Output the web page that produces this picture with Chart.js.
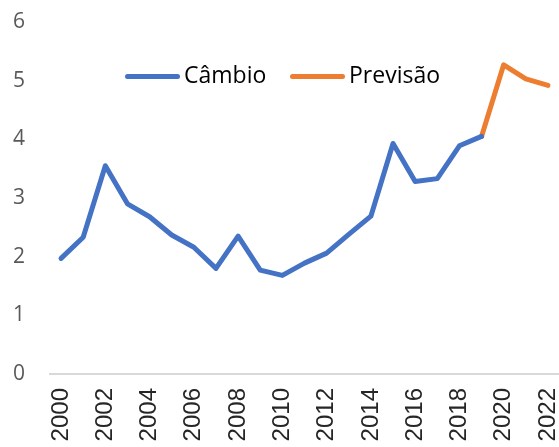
<!DOCTYPE html>
<html>
<head>
<meta charset="utf-8">
<script src="https://cdn.jsdelivr.net/npm/chart.js@4"></script>
<style>
  html, body { margin: 0; padding: 0; background: #fff; overflow: hidden; }
  #wrap { position: relative; width: 559px; height: 447px; }
  .legenda { position: absolute; top: 59px; left: 0; font-family: 'Open Sans'; font-size: 23px; color: #000; }
  .item { position: absolute; white-space: nowrap; line-height: 30px; }
  .traco { display: inline-block; width: 55px; height: 5px; border-radius: 3px; vertical-align: middle; margin-right: 4px; }
</style>
</head>
<body>
<div id="wrap">
  <canvas id="chart"></canvas>
  <div class="legenda" id="legenda"></div>
</div>
<script>
const anos = ['2000','2001','2002','2003','2004','2005','2006','2007','2008','2009','2010','2011',
  '2012','2013','2014','2015','2016','2017','2018','2019','2020','2021','2022']
const cambio = [1.97, 2.33, 3.55, 2.90, 2.68, 2.37, 2.16, 1.80, 2.35, 1.77, 1.68, 1.89,
  2.06, 2.38, 2.69, 3.93, 3.28, 3.33, 3.89, 4.05, null, null, null]
const previsao = [null, null, null, null, null, null, null, null, null, null, null, null,
  null, null, null, null, null, null, null, 4.05, 5.27, 5.03, 4.92]

const config = {
  type: 'line',
  data: {
    labels: anos,
    datasets: [
      { label: 'Câmbio', data: cambio, borderColor: '#4472C4', backgroundColor: '#4472C4',
        borderWidth: 5, pointRadius: 0, borderCapStyle: 'round', borderJoinStyle: 'round' },
      { label: 'Previsão', data: previsao, borderColor: '#ED7D31', backgroundColor: '#ED7D31',
        borderWidth: 5, pointRadius: 0, borderCapStyle: 'round', borderJoinStyle: 'round' }
    ]
  },
  options: {
    responsive: true,
    maintainAspectRatio: false,
    animation: false,
    layout: { padding: { top: 22, right: 0, left: 0, bottom: 0 } },
    plugins: {
      tooltip: { enabled: false },
      legend: { display: false }
    },
    scales: {
      x: {
        offset: true,
        grid: { display: false, drawTicks: false },
        border: { color: '#d9d9d9', width: 2 },
        afterFit: function(scale) {
          scale.paddingRight = 0
          scale.paddingLeft = 0
          scale.height = 73
        },
        ticks: {
          autoSkip: false,
          maxRotation: 90,
          minRotation: 90,
          padding: 14,
          color: '#262626',
          font: { family: 'Liberation Sans', size: 24 },
          callback: function(v, i) { return i % 2 === 0 ? this.getLabelForValue(v) : '' }
        }
      },
      y: {
        min: 0,
        max: 6,
        grid: { display: false, drawTicks: false },
        border: { display: false },
        afterFit: function(scale) {
          scale.paddingTop = 0
          scale.paddingBottom = 0
          scale.width = 50
        },
        ticks: {
          stepSize: 1,
          padding: 25,
          color: '#595959',
          font: { family: 'Open Sans', size: 21 }
        }
      }
    }
  }
}

const myChart = new Chart(document.getElementById('chart'), config)

// legenda em HTML, dentro da area do grafico como no original
const legendX = [125, 290]
const legenda = document.getElementById('legenda')
config.data.datasets.forEach((ds, i) => {
  const item = document.createElement('div')
  item.className = 'item'
  item.style.left = legendX[i] + 'px'
  const traco = document.createElement('span')
  traco.className = 'traco'
  traco.style.background = ds.borderColor
  item.appendChild(traco)
  item.appendChild(document.createTextNode(ds.label))
  legenda.appendChild(item)
})
</script>
</body>
</html>
